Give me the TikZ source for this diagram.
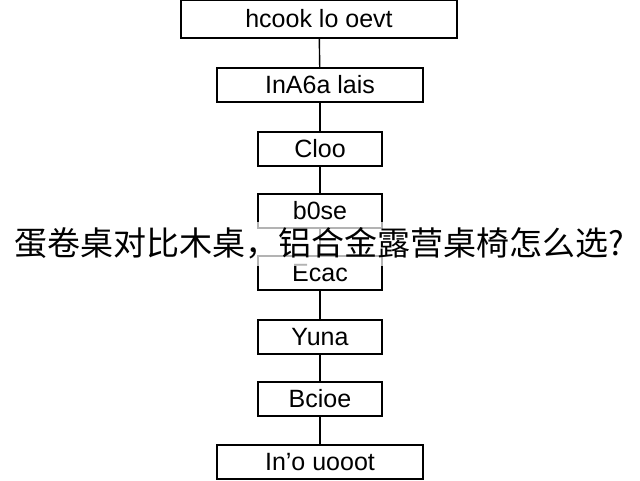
\documentclass[tikz,border=0pt]{standalone}
\usepackage{fontspec}
\setmainfont{Liberation Sans}
\newfontfamily\cjk{Noto Sans CJK SC}
\begin{document}
\begin{tikzpicture}[x=1pt,y=-1pt,
  box/.style={draw,line width=1.6pt,font=\fontsize{25}{27}\selectfont,inner sep=0pt},
  link/.style={line width=1.4pt}]
\useasboundingbox (0,0) rectangle (640,480);
\node[box,minimum width=276,minimum height=38] (a) at (319,19) {hcook lo oevt};
\node[box,minimum width=206,minimum height=34] (b) at (320,85) {InA6a lais};
\node[box,minimum width=124,minimum height=34] (c) at (320,149) {Cloo};
\node[box,minimum width=124,minimum height=34] (d) at (320,211) {b0se};
\node[box,minimum width=124,minimum height=34] (e) at (320,273) {Ecac};
\node[box,minimum width=124,minimum height=34] (f) at (320,337) {Yuna};
\node[box,minimum width=124,minimum height=34] (g) at (320,399) {Bcioe};
\node[box,minimum width=206,minimum height=34] (h) at (320,462) {In'o uooot};
\foreach \p/\q in {a/b,b/c,c/d,d/e,e/f,f/g,g/h} \draw[link] (\p) -- (\q);
\fill[white,opacity=0.7] (0,222) rectangle (640,266);
\node[anchor=west,inner sep=0pt,font=\cjk\fontsize{33}{36}\selectfont] (t) at (14,243) {蛋卷桌对比木桌，铝合金露营桌椅怎么选?};
\end{tikzpicture}
\end{document}
